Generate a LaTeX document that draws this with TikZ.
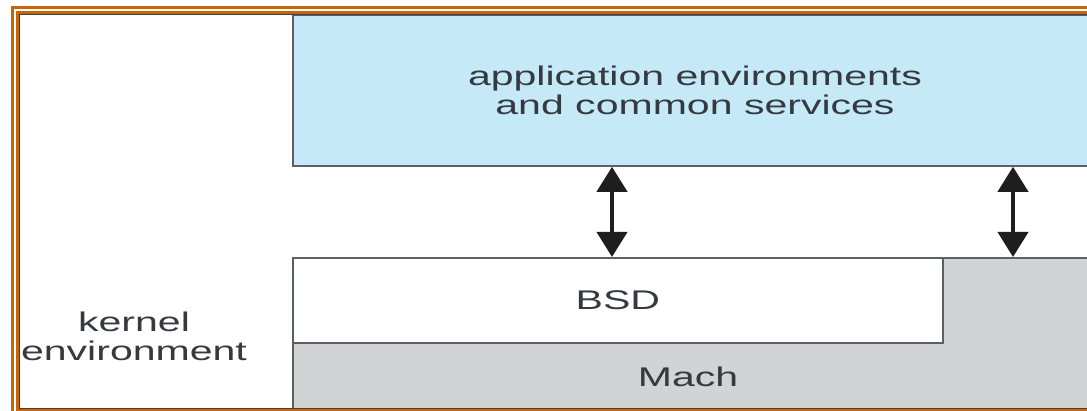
\documentclass[tikz,border=0pt]{standalone}
\usepackage{fontspec}
\setmainfont[FakeStretch=1.52]{Liberation Sans}
\usetikzlibrary{arrows.meta}
\definecolor{frameorange}{HTML}{C8650A}
\definecolor{appblue}{HTML}{C6E9F7}
\definecolor{machgray}{HTML}{D1D3D4}
\definecolor{edgegray}{HTML}{5A6066}
\definecolor{txt}{HTML}{343A40}
\definecolor{arrowblack}{HTML}{1E1E1E}
\tikzset{
  layerbox/.style={draw=edgegray, line width=1.8pt, rectangle, anchor=north west, inner sep=0pt},
  lbl/.style={text=txt, font=\fontsize{27}{29}\selectfont, inner sep=0pt, align=center},
  updown/.style={{Triangle[width=30pt,length=25pt]}-{Triangle[width=30pt,length=25pt]}, line width=4pt, draw=arrowblack},
}
\begin{document}
\begin{tikzpicture}[x=1pt,y=-1pt]
\useasboundingbox (0,0) rectangle (1087,411);
\fill[white] (0,0) rectangle (1087,411);
% boxes
\node[layerbox, fill=appblue, minimum width=820pt, minimum height=151pt] (app) at (292,14) {};
\node[layerbox, fill=machgray, minimum width=820pt, minimum height=151pt] (mach) at (292,257) {};
\node[layerbox, fill=white, minimum width=650pt, minimum height=85pt, lbl] (bsd) at (292,257) {BSD};
% labels
\node[lbl] (apptext) at (695,90) {application environments\\and common services};
\node[lbl] (machtext) at (688,377) {Mach};
\node[lbl] (kernel) at (134,336) {kernel\\environment};
% arrows
\coordinate (a1) at (612,0);
\coordinate (a2) at (1013,0);
\draw[updown] (a1 |- app.south) -- (a1 |- bsd.north);
\draw[updown] (a2 |- app.south) -- (a2 |- mach.north);
% frame
\draw[frameorange, line width=3pt] (12.5,420) -- (12.5,7.5) -- (1100,7.5);
\draw[frameorange, line width=3pt] (17.5,12.5) rectangle (1100,410.5);
\draw[black!75, line width=1.3pt] (19.7,14.5) rectangle (1100,408.2);
\end{tikzpicture}
\end{document}
